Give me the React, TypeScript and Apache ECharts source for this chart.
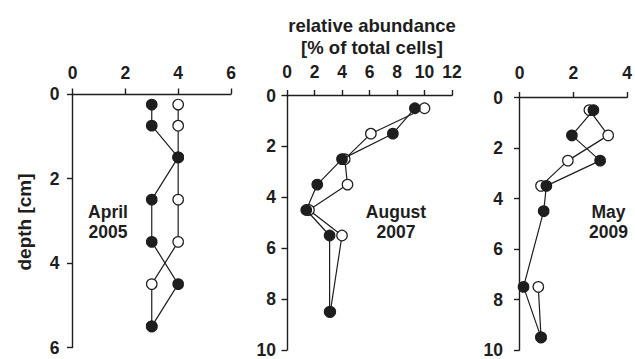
import React, { useEffect, useRef } from "react";
import * as echarts from "echarts";

// April 2005
const depthApr = [0.25, 0.75, 1.5, 2.5, 3.5, 4.5, 5.5];
const aprFilled = [3, 3, 4, 3, 3, 4, 3];
const aprOpen = [4, 4, 4, 4, 4, 3, 3];

// August 2007
const depthAug = [0.5, 1.5, 2.5, 3.5, 4.5, 5.5, 8.5];
const augFilled = [9.3, 7.7, 4.0, 2.2, 1.4, 3.1, 3.1];
const augOpen = [10, 6.1, 4.2, 4.4, 1.6, 4.0, 3.15];

// May 2009
const depthMay = [0.5, 1.5, 2.5, 3.5, 4.5, 7.5, 9.5];
const mayFilled = [2.75, 1.95, 3.0, 1.0, 0.9, 0.15, 0.8];
const mayOpen: (number | null)[] = [2.6, 3.3, 1.8, 0.8, null, 0.7, 0.8];

const panelLabels = ["April\n2005", "August\n2007", "May\n2009"];
const titleText = "relative abundance\n[% of total cells]";
const yTitle = "depth [cm]";

const xMax = [6, 12, 4];
const yMax = [6, 10, 10];

const INK = "#1e1e1e";
const FONT = "'Liberation Sans', Arial, Helvetica, sans-serif";

function pairs(xs: (number | null)[], ys: number[]) {
  return xs.map((x, i) => (x === null ? [null, ys[i]] : [x, ys[i]]));
}

export default function App() {
  const ref = useRef<HTMLDivElement>(null);
  useEffect(() => {
    if (!ref.current) return;
    const chart = echarts.init(ref.current, null, { renderer: "svg" });

    const grids = [
      { left: 72.5, top: 94, width: 158.5, height: 253.5 },
      { left: 287, top: 95.5, width: 165, height: 254.5 },
      { left: 519.5, top: 97.5, width: 107.5, height: 253.5 },
    ];
    const xMargins = [12.5, 15, 16];
    const yMargins = [13, 11, 16.5];

    const axisCommon = {
      type: "value" as const,
      axisLine: { show: true, lineStyle: { color: INK, width: 1.4 } },
      axisTick: { show: true, inside: false, length: 5.5, lineStyle: { color: INK, width: 1.4 } },
      splitLine: { show: false },
    };

    const xAxis = grids.map((_, i) => ({
      ...axisCommon,
      gridIndex: i,
      position: "top",
      min: 0,
      max: xMax[i],
      interval: 2,
      axisLabel: {
        margin: xMargins[i],
        color: INK,
        fontSize: 17.5,
        fontWeight: "bold",
        fontFamily: FONT,
        showMaxLabel: true,
        showMinLabel: true,
      },
    }));
    const yAxis = grids.map((_, i) => ({
      ...axisCommon,
      gridIndex: i,
      inverse: true,
      min: 0,
      max: yMax[i],
      interval: 2,
      axisLabel: {
        margin: yMargins[i],
        color: INK,
        fontSize: 17.5,
        fontWeight: "bold",
        fontFamily: FONT,
        showMaxLabel: true,
        showMinLabel: true,
      },
    }));

    const mk = (data: any[], idx: number, filled: boolean) => ({
      type: "line",
      xAxisIndex: idx,
      yAxisIndex: idx,
      data,
      symbol: "circle",
      symbolSize: 10.5,
      connectNulls: false,
      z: filled ? 3 : 2,
      lineStyle: { color: INK, width: 1.2 },
      itemStyle: {
        color: filled ? INK : "#ffffff",
        borderColor: INK,
        borderWidth: 1.2,
      },
    });

    const series = [
      mk(pairs(aprOpen, depthApr), 0, false),
      mk(pairs(aprFilled, depthApr), 0, true),
      mk(pairs(augOpen, depthAug), 1, false),
      mk(pairs(augFilled, depthAug), 1, true),
      mk(pairs(mayOpen, depthMay), 2, false),
      mk(pairs(mayFilled, depthMay), 2, true),
    ];

    const labelX = [108, 396, 608.5];
    const graphic: any[] = panelLabels.map((t, i) => ({
      type: "text",
      x: labelX[i],
      y: 202.5,
      style: {
        text: t,
        fill: INK,
        font: `bold 17.5px ${FONT}`,
        textAlign: "center",
        textVerticalAlign: "top",
        lineHeight: 19.5,
      },
    }));
    graphic.push({
      type: "text",
      x: 372,
      y: 14,
      style: {
        text: titleText,
        fill: INK,
        font: `bold 18.5px ${FONT}`,
        textAlign: "center",
        textVerticalAlign: "top",
        lineHeight: 22,
      },
    });
    graphic.push({
      type: "text",
      x: 24,
      y: 222,
      rotation: Math.PI / 2,
      style: {
        text: yTitle,
        fill: INK,
        font: `bold 19px ${FONT}`,
        textAlign: "center",
        textVerticalAlign: "middle",
      },
    });

    chart.setOption({
      animation: false,
      backgroundColor: "#ffffff",
      grid: grids,
      xAxis,
      yAxis,
      series,
      graphic,
    });
    return () => chart.dispose();
  }, []);
  return (
    <div
      ref={ref}
      style={{ position: "fixed", left: 0, top: 0, width: 635, height: 359 }}
    />
  );
}
